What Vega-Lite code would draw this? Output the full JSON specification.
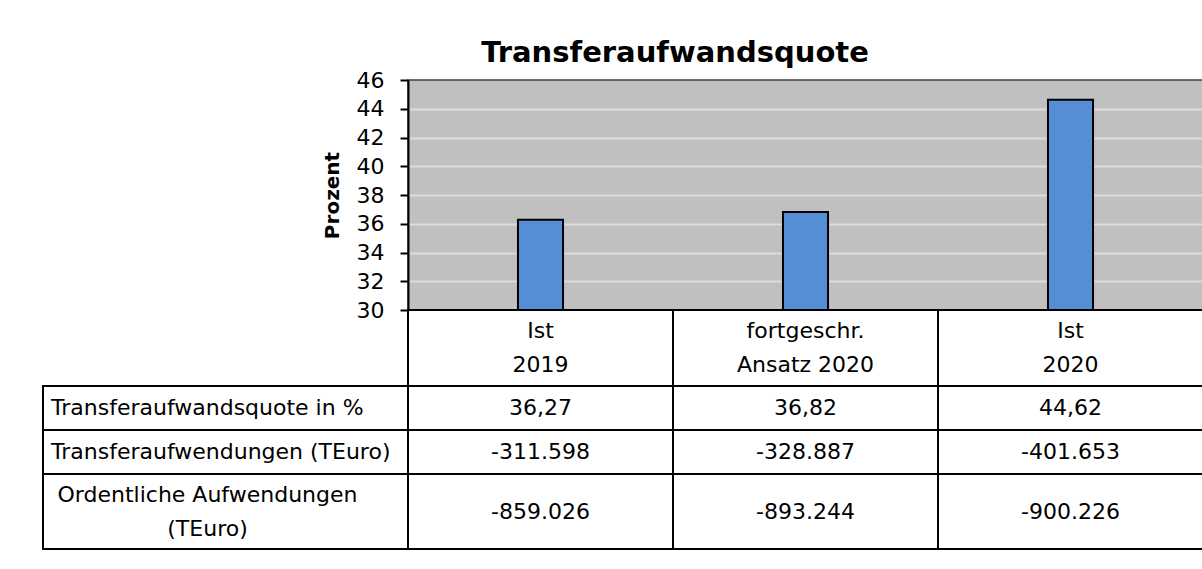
{
  "$schema": "https://vega.github.io/schema/vega-lite/v6.json",
  "padding": {"left": 41, "top": 39, "right": 1, "bottom": 5},
  "background": "white",
  "config": {
    "font": "DejaVu Sans",
    "view": {"stroke": "#000", "strokeWidth": 2},
    "text": {"font": "DejaVu Sans", "fontSize": 22, "color": "#000"}
  },
  "title": {"text": "Transferaufwandsquote", "fontSize": 29, "fontWeight": "bold", "font": "DejaVu Sans", "color": "#000", "anchor": "middle", "dx": 52, "offset": 0},
  "columns": 2,
  "spacing": 0,
  "bounds": "flush",
  "datasets": {
    "quote": [
      {"Kategorie": "Ist\n2019", "Quote": 36.27},
      {"Kategorie": "fortgeschr.\nAnsatz 2020", "Quote": 36.82},
      {"Kategorie": "Ist\n2020", "Quote": 44.62}
    ],
    "zeilen": [
      {"Kennzahl": "Transferaufwandsquote in %"},
      {"Kennzahl": "Transferaufwendungen (TEuro)"},
      {"Kennzahl": "Ordentliche Aufwendungen\n(TEuro)"}
    ],
    "tabelle": [
      {"Kategorie": "Ist\n2019", "Kennzahl": "Transferaufwandsquote in %", "Wert": "36,27"},
      {"Kategorie": "fortgeschr.\nAnsatz 2020", "Kennzahl": "Transferaufwandsquote in %", "Wert": "36,82"},
      {"Kategorie": "Ist\n2020", "Kennzahl": "Transferaufwandsquote in %", "Wert": "44,62"},
      {"Kategorie": "Ist\n2019", "Kennzahl": "Transferaufwendungen (TEuro)", "Wert": "-311.598"},
      {"Kategorie": "fortgeschr.\nAnsatz 2020", "Kennzahl": "Transferaufwendungen (TEuro)", "Wert": "-328.887"},
      {"Kategorie": "Ist\n2020", "Kennzahl": "Transferaufwendungen (TEuro)", "Wert": "-401.653"},
      {"Kategorie": "Ist\n2019", "Kennzahl": "Ordentliche Aufwendungen\n(TEuro)", "Wert": "-859.026"},
      {"Kategorie": "fortgeschr.\nAnsatz 2020", "Kennzahl": "Ordentliche Aufwendungen\n(TEuro)", "Wert": "-893.244"},
      {"Kategorie": "Ist\n2020", "Kennzahl": "Ordentliche Aufwendungen\n(TEuro)", "Wert": "-900.226"}
    ]
  },
  "concat": [
    {
      "width": 365, "height": 230,
      "data": {"values": [{}]},
      "view": {"stroke": null},
      "mark": {"type": "text", "text": ""},
      "encoding": {}
    },
    {
      "width": 795, "height": 230,
      "data": {"name": "quote"},
      "view": {"fill": "#C0C0C0", "stroke": "#404040", "strokeWidth": 1.5},
      "mark": {"type": "bar", "fill": "#558ED5", "stroke": "#000", "strokeWidth": 2, "width": {"band": 0.17}},
      "encoding": {
        "x": {"field": "Kategorie", "type": "nominal", "sort": null, "axis": null, "scale": {"paddingInner": 0, "paddingOuter": 0}},
        "y": {
          "field": "Quote", "type": "quantitative",
          "scale": {"domain": [30, 46], "nice": false, "zero": false},
          "axis": {
            "title": "Prozent",
            "values": [30, 32, 34, 36, 38, 40, 42, 44, 46],
            "labelFontSize": 22, "labelColor": "#000", "labelFont": "DejaVu Sans", "labelPadding": 16,
            "tickSize": 8, "tickWidth": 2, "tickColor": "#000",
            "domainColor": "#000", "domainWidth": 2,
            "grid": true,
            "gridColor": {"condition": {"test": "datum.value === 30 || datum.value === 46", "value": "transparent"}, "value": "#DCDCDC"},
            "gridWidth": 2,
            "titleFont": "DejaVu Sans", "titleFontSize": 20, "titleFontWeight": "bold", "titleColor": "#000", "titlePadding": 14
          }
        },
        "y2": {"datum": 30}
      }
    },
    {
      "width": 365, "height": 76,
      "data": {"values": [{}]},
      "view": {"stroke": null},
      "mark": {"type": "text", "text": ""},
      "encoding": {}
    },
    {
      "width": 795, "height": 76,
      "data": {"name": "quote"},
      "view": {"stroke": "#000", "strokeWidth": 2},
      "layer": [
        {
          "mark": {"type": "rect", "fill": "#fff", "stroke": "#000", "strokeWidth": 2},
          "encoding": {"x": {"field": "Kategorie", "type": "nominal", "sort": null, "axis": null, "scale": {"paddingInner": 0, "paddingOuter": 0}}}
        },
        {
          "mark": {"type": "text", "lineBreak": "\n", "lineHeight": 34, "dy": -17, "fontSize": 22, "color": "#000"},
          "encoding": {
            "x": {"field": "Kategorie", "type": "nominal", "sort": null, "axis": null},
            "text": {"field": "Kategorie"}
          }
        }
      ]
    },
    {
      "width": 365, "height": 88,
      "data": {"name": "zeilen"},
      "view": {"stroke": "#000", "strokeWidth": 2},
      "transform": [{"filter": {"field": "Kennzahl", "oneOf": ["Transferaufwandsquote in %", "Transferaufwendungen (TEuro)"]}}],
      "layer": [
        {
          "mark": {"type": "rect", "fill": "#fff", "stroke": "#000", "strokeWidth": 2},
          "encoding": {"y": {"field": "Kennzahl", "type": "nominal", "sort": null, "axis": null, "scale": {"paddingInner": 0, "paddingOuter": 0}}}
        },
        {
          "mark": {"type": "text", "align": "left", "dx": 8, "fontSize": 22, "color": "#000"},
          "encoding": {
            "x": {"value": 0},
            "y": {"field": "Kennzahl", "type": "nominal", "sort": null, "axis": null},
            "text": {"field": "Kennzahl"}
          }
        }
      ]
    },
    {
      "width": 795, "height": 88,
      "data": {"name": "tabelle"},
      "view": {"stroke": "#000", "strokeWidth": 2},
      "transform": [{"filter": {"field": "Kennzahl", "oneOf": ["Transferaufwandsquote in %", "Transferaufwendungen (TEuro)"]}}],
      "layer": [
        {
          "mark": {"type": "rect", "fill": "#fff", "stroke": "#000", "strokeWidth": 2},
          "encoding": {
            "x": {"field": "Kategorie", "type": "nominal", "sort": null, "axis": null, "scale": {"paddingInner": 0, "paddingOuter": 0}},
            "y": {"field": "Kennzahl", "type": "nominal", "sort": null, "axis": null, "scale": {"paddingInner": 0, "paddingOuter": 0}}
          }
        },
        {
          "mark": {"type": "text", "fontSize": 22, "color": "#000"},
          "encoding": {
            "x": {"field": "Kategorie", "type": "nominal", "sort": null, "axis": null},
            "y": {"field": "Kennzahl", "type": "nominal", "sort": null, "axis": null},
            "text": {"field": "Wert"}
          }
        }
      ]
    },
    {
      "width": 365, "height": 75,
      "data": {"name": "zeilen"},
      "view": {"stroke": "#000", "strokeWidth": 2},
      "transform": [{"filter": {"field": "Kennzahl", "equal": "Ordentliche Aufwendungen\n(TEuro)"}}],
      "mark": {"type": "text", "lineBreak": "\n", "lineHeight": 34, "dx": -18, "dy": -17, "fontSize": 22, "color": "#000"},
      "encoding": {"text": {"field": "Kennzahl"}}
    },
    {
      "width": 795, "height": 75,
      "data": {"name": "tabelle"},
      "view": {"stroke": "#000", "strokeWidth": 2},
      "transform": [{"filter": {"field": "Kennzahl", "equal": "Ordentliche Aufwendungen\n(TEuro)"}}],
      "layer": [
        {
          "mark": {"type": "rect", "fill": "#fff", "stroke": "#000", "strokeWidth": 2},
          "encoding": {"x": {"field": "Kategorie", "type": "nominal", "sort": null, "axis": null, "scale": {"paddingInner": 0, "paddingOuter": 0}}}
        },
        {
          "mark": {"type": "text", "fontSize": 22, "color": "#000"},
          "encoding": {
            "x": {"field": "Kategorie", "type": "nominal", "sort": null, "axis": null},
            "text": {"field": "Wert"}
          }
        }
      ]
    }
  ]
}
